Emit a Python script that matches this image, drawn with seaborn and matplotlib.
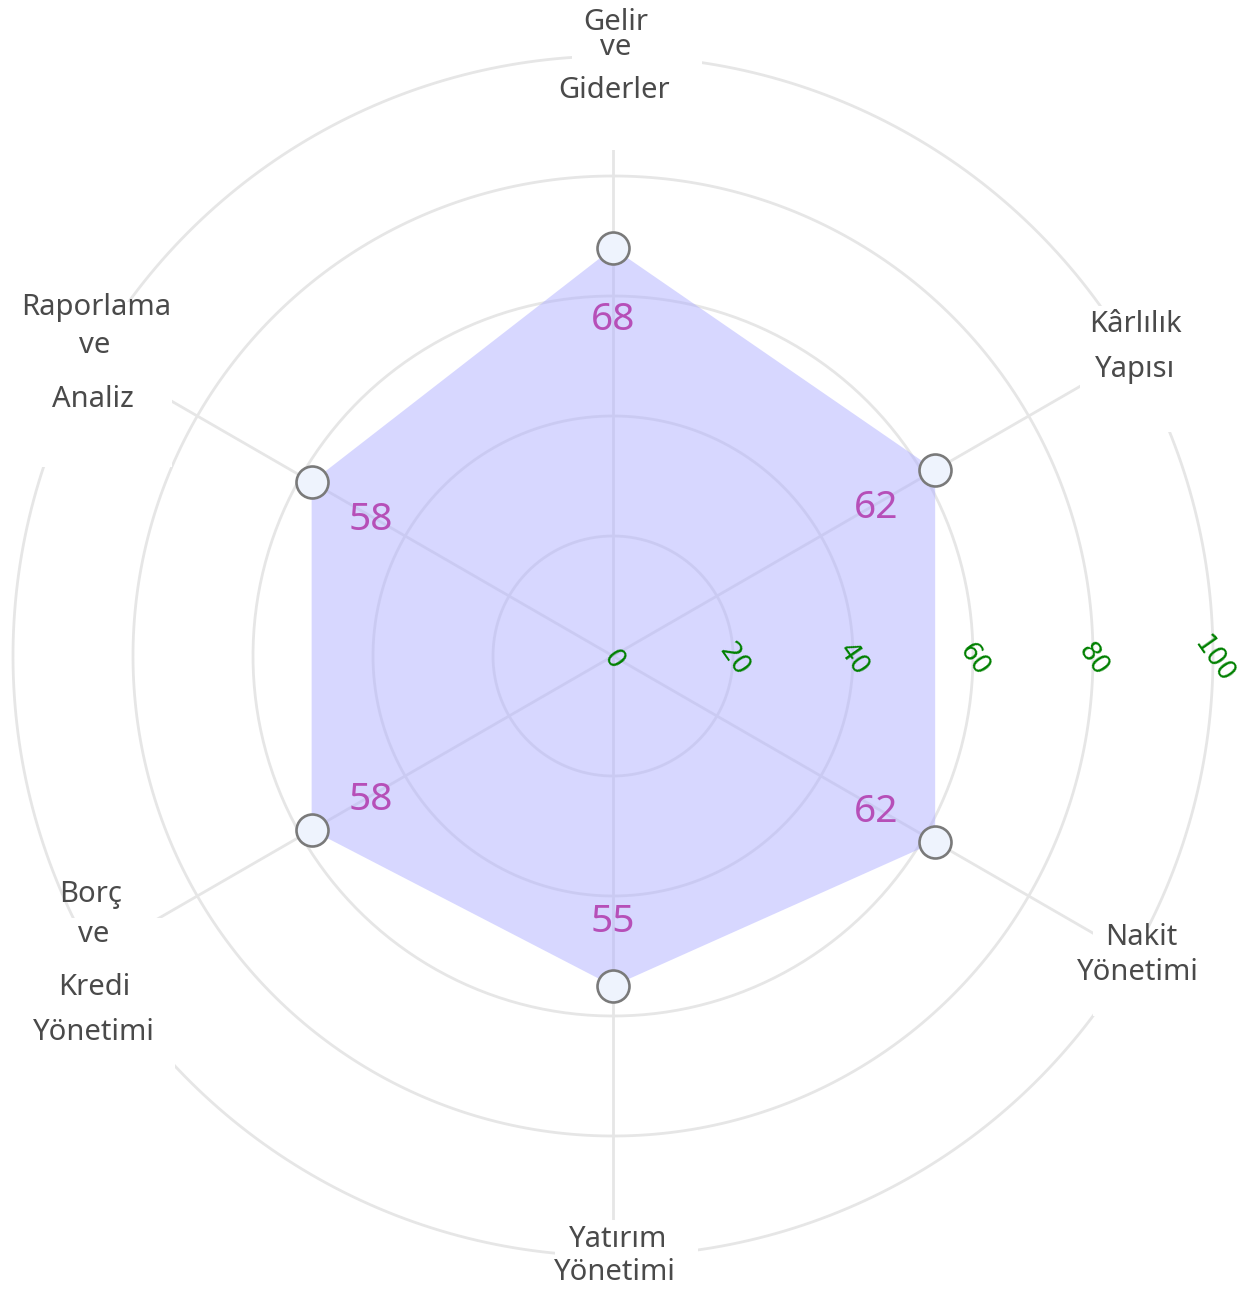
import numpy as np
import pandas as pd
import matplotlib

matplotlib.use("Agg")
import matplotlib.pyplot as plt  # noqa: E402
import seaborn as sns  # noqa: E402
from matplotlib.patches import Rectangle  # noqa: E402
from matplotlib.transforms import offset_copy  # noqa: E402

# --- data ---------------------------------------------------------------
categories = [
    "Gelir\nve\nGiderler",
    "Kârlılık\nYapısı",
    "Nakit\nYönetimi",
    "Yatırım\nYönetimi",
    "Borç\nve\nKredi\nYönetimi",
    "Raporlama\nve\nAnaliz",
]
scores = [68, 62, 62, 55, 58, 58]
ring_ticks = [0, 20, 40, 60, 80, 100]

# --- style --------------------------------------------------------------
W, H = 1254, 1291
FILL = "#b0b0ff"
GRID = "#e6e6e6"
LABEL_C = "#4a4a4a"
VALUE_C = "#b64fb8"
TICK_C = "#008000"

sns.set_theme(style="white")
plt.rcParams["font.family"] = ["Noto Sans", "DejaVu Sans"]

fig = plt.figure(figsize=(W / 100, H / 100), dpi=100)
ax = fig.add_axes([13 / W, 35 / H, 1200 / W, 1200 / H], projection="polar")
ax.set_theta_offset(np.pi / 2)
ax.set_theta_direction(-1)
ax.set_ylim(0, 100)
ax.set_xticks([])
ax.set_yticks([])
ax.grid(False)
ax.spines["polar"].set_visible(False)
ax.patch.set_alpha(0)

n = len(categories)
theta = np.arange(n) * 2 * np.pi / n
df = pd.DataFrame({"theta": theta, "score": scores, "kategori": categories})

# grid: rings + spokes
circ = np.linspace(0, 2 * np.pi, 400)
for r in ring_ticks[1:]:
    ax.plot(circ, np.full_like(circ, r), color=GRID, lw=2, zorder=1, clip_on=False)
for t in theta:
    ax.plot([t, t], [0, ring_ticks[-1]], color=GRID, lw=2, zorder=1, clip_on=False)

# filled area
ax.fill(np.append(theta, theta[0]), scores + scores[:1], color=FILL, alpha=0.5,
        lw=0, zorder=2)

# points
sns.scatterplot(data=df, x="theta", y="score", ax=ax, s=530, color="#eef3fd",
                edgecolor="#7a7a7a", linewidth=1.9, zorder=4, clip_on=False,
                legend=False)
ax.set_xlabel("")
ax.set_ylabel("")

# text a few pixels lower than the data point
down = offset_copy(ax.transData, fig=fig, x=0, y=-4, units="dots")

# value labels, pulled inward along each spoke
for t, v in zip(theta, scores):
    ax.text(t, v - 11.3, str(v), color=VALUE_C, fontsize=28, ha="center",
            va="center", zorder=5, transform=down)

# radial tick labels along the east axis
for r in ring_ticks:
    ax.text(np.pi / 2, r, str(r), color=TICK_C, fontsize=19, rotation=-55,
            ha="center", va="center", family="DejaVu Sans", zorder=5,
            rotation_mode="anchor", transform=down)

# white backgrounds behind category labels (pixel boxes: x0, y0, x1, y1 from top)
label_boxes = [
    (572, 0, 702, 150),
    (1080, 306, 1205, 432),
    (1093, 928, 1215, 1016),
    (555, 1220, 698, 1291),
    (20, 918, 175, 1078),
    (10, 302, 172, 467),
]
for x0, y0, x1, y1 in label_boxes:
    fig.patches.append(Rectangle((x0 / W, 1 - y1 / H), (x1 - x0) / W, (y1 - y0) / H,
                                 transform=fig.transFigure, facecolor="white",
                                 edgecolor="none", zorder=1))

# category labels, line by line (x centre, baseline y in pixels from top);
# the first two lines of the top label sit tight, so they share one text
line_pos = [
    [(616, 55), (614, 98)],
    [(1135, 332), (1135, 377)],
    [(1141, 945), (1138, 980)],
    [(618, 1247), (615, 1280)],
    [(91, 902), (94, 942), (94, 995), (94, 1040)],
    [(96, 315), (95, 353), (93, 407)],
]
label_lines = [
    ["Gelir\nve", "Giderler"],
    *[name.split("\n") for name in categories[1:]],
]
for lines, pos in zip(label_lines, line_pos):
    for line, (px, py) in zip(lines, pos):
        fig.text(px / W, 1 - py / H, line, color=LABEL_C, fontsize=21,
                 ha="center", va="baseline", zorder=3, linespacing=0.8,
                 multialignment="center")

fig.savefig("out.png", dpi=100)
plt.close(fig)
